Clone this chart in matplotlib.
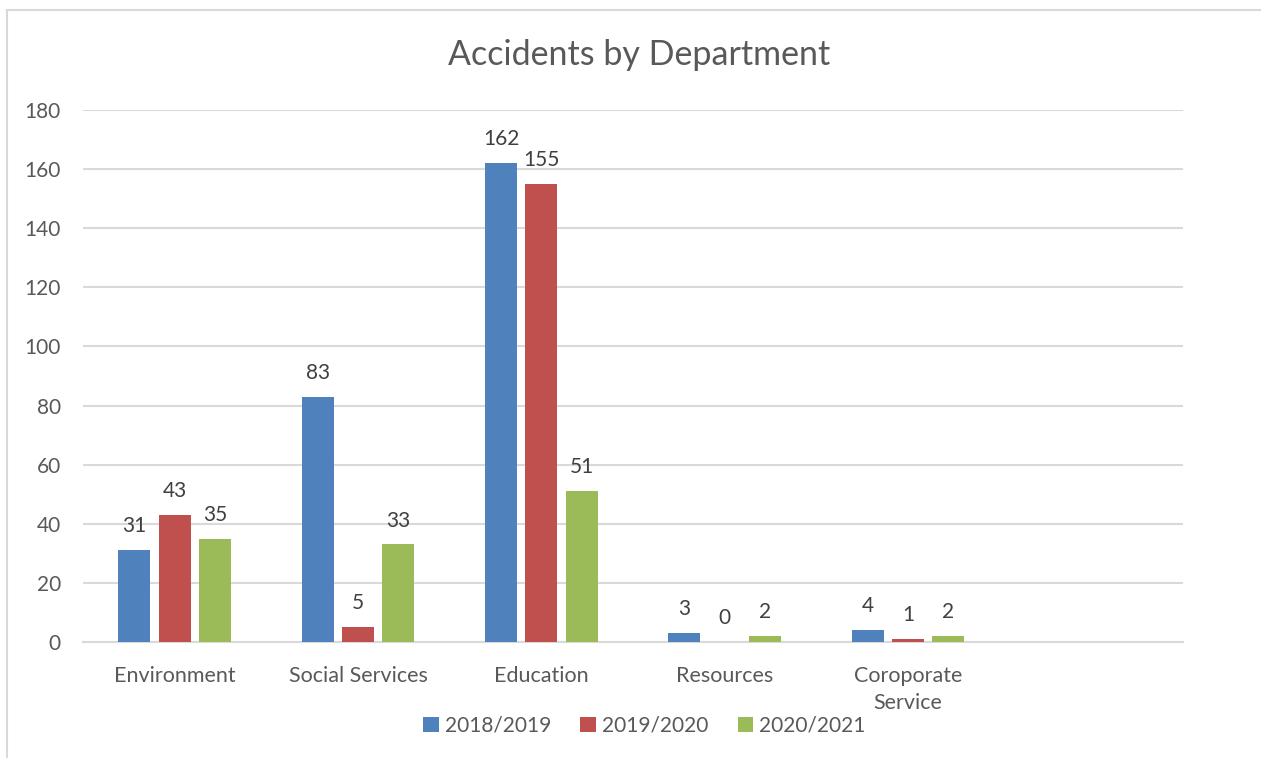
import matplotlib.pyplot as plt
from matplotlib.patches import Rectangle
import numpy as np

departments = ["Environment", "Social Services", "Education", "Resources", "Coroporate\nService", ""]
seasons = ["2018/2019", "2019/2020", "2020/2021"]
accidents_2018 = [31, 83, 162, 3, 4]
accidents_2019 = [43, 5, 155, 0, 1]
accidents_2020 = [35, 33, 51, 2, 2]
colors = ["#4F81BD", "#C0504D", "#9BBB59"]

TEXT = "#595959"
GRID = "#D9D9D9"

plt.rcParams["font.family"] = ["Lato", "DejaVu Sans"]

fig = plt.figure(figsize=(12.61, 7.58), dpi=100)
ax = fig.add_axes([83 / 1261, 1 - 642 / 758, 1100 / 1261, 532 / 758])

x = np.arange(len(accidents_2018))
width = 0.175
offsets = [-0.22, 0.0, 0.22]
series = [accidents_2018, accidents_2019, accidents_2020]

for vals, off, col, name in zip(series, offsets, colors, seasons):
    bars = ax.bar(x + off, vals, width, color=col, label=name, zorder=3)
    for b, v in zip(bars, vals):
        ax.annotate(str(v), (b.get_x() + b.get_width() / 2, v),
                    xytext=(0, 10), textcoords="offset points",
                    ha="center", va="bottom", fontsize=15, color="#404040")

ax.set_xlim(-0.5, len(departments) - 0.5)
ax.set_ylim(0, 180)
ax.set_yticks(range(0, 181, 20))
ax.set_xticks(range(len(departments)))
ax.set_xticklabels(departments, fontsize=15.5, color=TEXT, linespacing=1.45)
ax.tick_params(axis="y", length=0, pad=16, labelsize=15, labelcolor=TEXT)
ax.tick_params(axis="x", length=0, pad=17)
for lbl in ax.get_yticklabels():
    lbl.set_horizontalalignment("right")

ax.grid(axis="y", color=GRID, linewidth=1.5, zorder=0)
for side in ["top", "right", "left"]:
    ax.spines[side].set_visible(False)
ax.spines["bottom"].set_color(GRID)
ax.spines["bottom"].set_linewidth(1.5)

fig.text(0.507, 1 - 55 / 758, "Accidents by Department", ha="center", va="center",
         fontsize=24.5, color=TEXT)

fig.legend(loc="center", bbox_to_anchor=(0.511, 1 - 726 / 758), ncol=3, frameon=False,
           fontsize=15, labelcolor=TEXT, handlelength=0.75, handleheight=0.75,
           handletextpad=0.3, columnspacing=1.4)

fig.add_artist(Rectangle((7 / 1261, -0.05), 1.2, 1 - 10 / 758 + 0.05,
                         transform=fig.transFigure, fill=False,
                         edgecolor="#D9D9D9", linewidth=1.5))

fig.savefig("out.png", dpi=100)
